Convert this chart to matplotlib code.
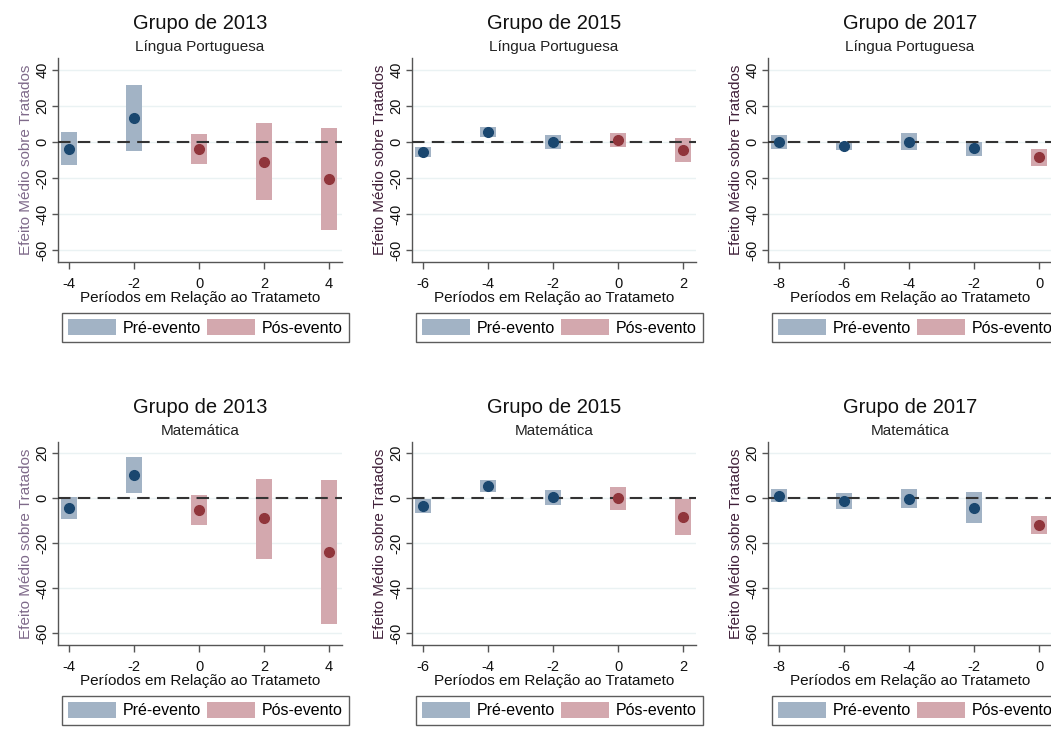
import matplotlib
matplotlib.use("Agg")
import numpy as np
import matplotlib.pyplot as plt
from matplotlib.patches import Patch

plt.rcParams['font.family'] = ['Liberation Sans', 'DejaVu Sans']
plt.rcParams['axes.unicode_minus'] = False

# periods (x axis) for each cohort
periods_2013 = [-4, -2, 0, 2, 4]
periods_2015 = [-6, -4, -2, 0, 2]
periods_2017 = [-8, -6, -4, -2, 0]

# Lingua Portuguesa: estimate, lower and upper CI
lp_2013_est = [-4.0, 13.5, -4.0, -11.0, -20.5]
lp_2013_lo = [-13.0, -5.0, -12.0, -32.0, -49.0]
lp_2013_hi = [5.5, 31.5, 4.5, 10.5, 8.0]

lp_2015_est = [-5.5, 5.5, 0.0, 1.0, -4.5]
lp_2015_lo = [-8.5, 3.0, -4.0, -3.0, -11.0]
lp_2015_hi = [-3.0, 8.5, 4.0, 5.0, 2.0]

lp_2017_est = [0.0, -2.0, 0.0, -3.5, -8.5]
lp_2017_lo = [-4.0, -4.5, -4.5, -7.5, -13.5]
lp_2017_hi = [4.0, 0.0, 5.0, 0.0, -4.0]

# Matematica
mat_2013_est = [-4.5, 10.0, -5.5, -9.0, -24.0]
mat_2013_lo = [-9.5, 2.0, -12.0, -27.0, -56.0]
mat_2013_hi = [0.5, 18.0, 1.5, 8.5, 8.0]

mat_2015_est = [-3.5, 5.5, 0.5, 0.0, -8.5]
mat_2015_lo = [-6.5, 2.5, -3.0, -5.5, -16.5]
mat_2015_hi = [-0.5, 8.0, 3.5, 5.0, -0.5]

mat_2017_est = [1.0, -1.5, -0.5, -4.5, -12.0]
mat_2017_lo = [-2.0, -5.0, -4.5, -11.0, -16.0]
mat_2017_hi = [4.0, 2.0, 4.0, 2.5, -8.0]

groups = ["Grupo de 2013", "Grupo de 2015", "Grupo de 2017"]
subjects = ["Língua Portuguesa", "Matemática"]
lp_yticks = [-60, -40, -20, 0, 20, 40]
mat_yticks = [-60, -40, -20, 0, 20]

# colors
pre_dot = "#1a476f"
post_dot = "#90353b"
pre_bar = "#a2b3c5"
post_bar = "#d3a8ae"

W, H = 1051, 729
fig = plt.figure(figsize=(W / 100, H / 100), dpi=100)


def px_axes(left, top, width, height):
    return fig.add_axes([left / W, 1 - (top + height) / H, width / W, height / H])


def draw_panel(ax, x, est, lo, hi, title, subtitle, yticks, ylim, ylab_color):
    x = np.array(x)
    est = np.array(est)
    lo = np.array(lo)
    hi = np.array(hi)
    pre = x < 0
    post = ~pre
    ax.bar(x[pre], hi[pre] - lo[pre], bottom=lo[pre], width=0.5,
           color=pre_bar, zorder=2)
    ax.bar(x[post], hi[post] - lo[post], bottom=lo[post], width=0.5,
           color=post_bar, zorder=2)
    ax.axhline(0, color="#333333", lw=1.5, ls=(0, (6, 3.5)), zorder=3)
    ax.plot(x[pre], est[pre], 'o', color=pre_dot, ms=7, zorder=4)
    ax.plot(x[post], est[post], 'o', color=post_dot, ms=7, zorder=4)

    ax.set_xlim(x.min() - 0.35, x.max() + 0.4)
    ax.set_ylim(*ylim)
    ax.set_xticks(x)
    ax.set_yticks(yticks)
    ax.yaxis.grid(True, color="#eaf2f3", lw=1)
    ax.set_axisbelow(True)
    for s in ["top", "right"]:
        ax.spines[s].set_visible(False)
    for s in ["left", "bottom"]:
        ax.spines[s].set_color("#555555")
        ax.spines[s].set_linewidth(1.0)
    ax.tick_params(axis='both', color="#555555", labelcolor="#111111",
                   labelsize=10.5, width=1.0)
    ax.tick_params(axis='y', length=4, pad=2)
    ax.tick_params(axis='x', length=5, pad=6)
    for lab in ax.get_yticklabels():
        lab.set_rotation(90)
        lab.set_va('center')

    ax.set_xlabel("Períodos em Relação ao Tratameto", fontsize=11,
                  color="#111111", labelpad=0)
    ax.set_ylabel("Efeito Médio sobre Tratados", fontsize=11,
                  color=ylab_color, labelpad=2)
    ax.text(0.5, 1.17, title, transform=ax.transAxes, ha='center',
            va='center', fontsize=14.5, color="#111111")
    ax.text(0.5, 1.055, subtitle, transform=ax.transAxes, ha='center',
            va='center', fontsize=11, color="#222222")

    handles = [Patch(facecolor=pre_bar, edgecolor='none', label="Pré-evento"),
               Patch(facecolor=post_bar, edgecolor='none', label="Pós-evento")]
    leg = ax.legend(handles=handles, ncol=2, loc='upper left',
                    bbox_to_anchor=(0.014, -0.25),
                    fontsize=11.5, frameon=True, fancybox=False,
                    handlelength=3.0, handleheight=1.12, handletextpad=0.4,
                    columnspacing=0.4, borderpad=0.4, borderaxespad=0)
    leg.get_frame().set_edgecolor("#333333")
    leg.get_frame().set_linewidth(1.0)


lefts = [58, 412, 768]
aw = 284
top_rows = [58, 442]
ah = [204, 203]

lp_data = [(periods_2013, lp_2013_est, lp_2013_lo, lp_2013_hi),
           (periods_2015, lp_2015_est, lp_2015_lo, lp_2015_hi),
           (periods_2017, lp_2017_est, lp_2017_lo, lp_2017_hi)]
mat_data = [(periods_2013, mat_2013_est, mat_2013_lo, mat_2013_hi),
            (periods_2015, mat_2015_est, mat_2015_lo, mat_2015_hi),
            (periods_2017, mat_2017_est, mat_2017_lo, mat_2017_hi)]

ylab_colors = ["#7f6a8a", "#40203a", "#40203a"]

for i in range(3):
    ax = px_axes(lefts[i], top_rows[0], aw, ah[0])
    draw_panel(ax, *lp_data[i], groups[i], subjects[0], lp_yticks,
               (-66.7, 46.7), ylab_colors[i])
    ax = px_axes(lefts[i], top_rows[1], aw, ah[1])
    draw_panel(ax, *mat_data[i], groups[i], subjects[1], mat_yticks,
               (-65.2, 24.8), ylab_colors[i])

fig.savefig("out.png", dpi=100)
